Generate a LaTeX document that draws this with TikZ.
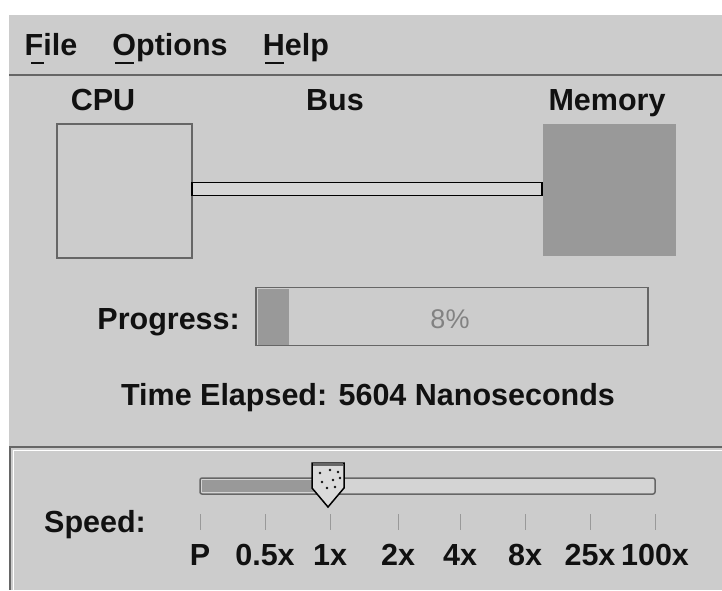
\documentclass[tikz,border=0pt]{standalone}
\usepackage{fontspec}
\setmainfont{Liberation Sans}
\usetikzlibrary{patterns}
\definecolor{uibg}{HTML}{CCCCCC}
\definecolor{uidark}{HTML}{666666}
\definecolor{uimid}{HTML}{999999}
\definecolor{uitext}{HTML}{111111}
\tikzset{
  x=1pt, y=-1pt,
  lbl/.style={font=\fontsize{30.5}{32}\selectfont\bfseries, text=uitext, inner sep=0pt, anchor=base},
  ulin/.style={draw=uitext, line width=2pt},
  boxline/.style={draw=uidark, line width=1.5pt},
  tick/.style={draw=uimid, line width=1pt},
}
\begin{document}
\begin{tikzpicture}
\useasboundingbox (0,0) rectangle (722,590);
\fill[white] (0,0) rectangle (722,590);
% window body
\fill[uibg] (9,15) rectangle (722,590);
% menu separator
\draw[uidark, line width=2.5pt] (9,75) -- (722,75);
% menu
\node[lbl] (file) at (51,55) {File};
\node[lbl] (opts) at (170,55) {Options};
\node[lbl] (help) at (296,55) {Help};
\draw[ulin] (31,63) -- (44,63);
\draw[ulin] (115,63) -- (134,63);
\draw[ulin] (265,63) -- (284,63);
% headings
\node[lbl] (cpul) at (103,110) {CPU};
\node[lbl] (busl) at (335,110) {Bus};
\node[lbl] (meml) at (607,110) {Memory};
% CPU and memory
\node[boxline, fill=uibg, minimum width=135pt, minimum height=134pt, inner sep=0pt] (cpu) at (124.5,191) {};
\node[fill=uimid, minimum width=133pt, minimum height=132pt, inner sep=0pt] (mem) at (609,189.5) {};
% bus
\node[draw=black, line width=1.5pt, fill=uibg!80!white, minimum width=350pt, minimum height=13pt, inner sep=0pt] (bus) at (367,189) {};
% progress
\node[lbl, anchor=base east] (progl) at (240,329) {Progress:};
\node[boxline, fill=uibg, minimum width=392pt, minimum height=58pt, inner sep=0pt] (prog) at (452,316.5) {};
\fill[uimid] (257.5,288.5) rectangle (289,344.5);
\node[font=\fontsize{27}{28}\selectfont, text=uimid!85!black, inner sep=0pt, anchor=base] (pct) at (450,328) {8\%};
% time elapsed
\node[lbl] (time) at (368,405) {Time Elapsed: 5604 Nanoseconds};
% speed panel border
\draw[uidark, line width=2pt] (722,447) -- (10,447) -- (10,590);
\draw[white, line width=1.5pt] (722,450.5) -- (13.5,450.5) -- (13.5,590);
\node[lbl] (speedl) at (95,532) {Speed:};
% slider track
\draw[uidark, line width=1.5pt, fill=uibg!85!white, rounded corners=2pt] (200,478) rectangle (655,494) coordinate (trackend);
\fill[uimid] (202,480) rectangle (318,492);
% thumb
\draw[black, line width=1.5pt, fill=uibg!70!white] (312,463) -- (344,463) -- (344,488) -- (328,507) -- (312,488) -- cycle;
\node[inner sep=0pt, minimum size=1pt] (thumb) at (328,463) {};
\draw[uidark, line width=3pt] (313,464) -- (343,464);
\foreach \dx/\dy in {320/473,330/470,338/472,322/482,333/480,340/478,327/488,335/487}
  \fill[uitext] (\dx,\dy) circle (1.3pt);
% ticks and labels
\foreach \tx/\tt/\nm in {200/P/t0,265/0.5x/t1,330/1x/t2,398/2x/t3,460/4x/t4,525/8x/t5,590/25x/t6,655/100x/t7}{
  \draw[tick] (\tx,514) -- (\tx,530);
  \node[lbl] (\nm) at (\tx,565) {\tt};
}
\end{tikzpicture}
\end{document}
